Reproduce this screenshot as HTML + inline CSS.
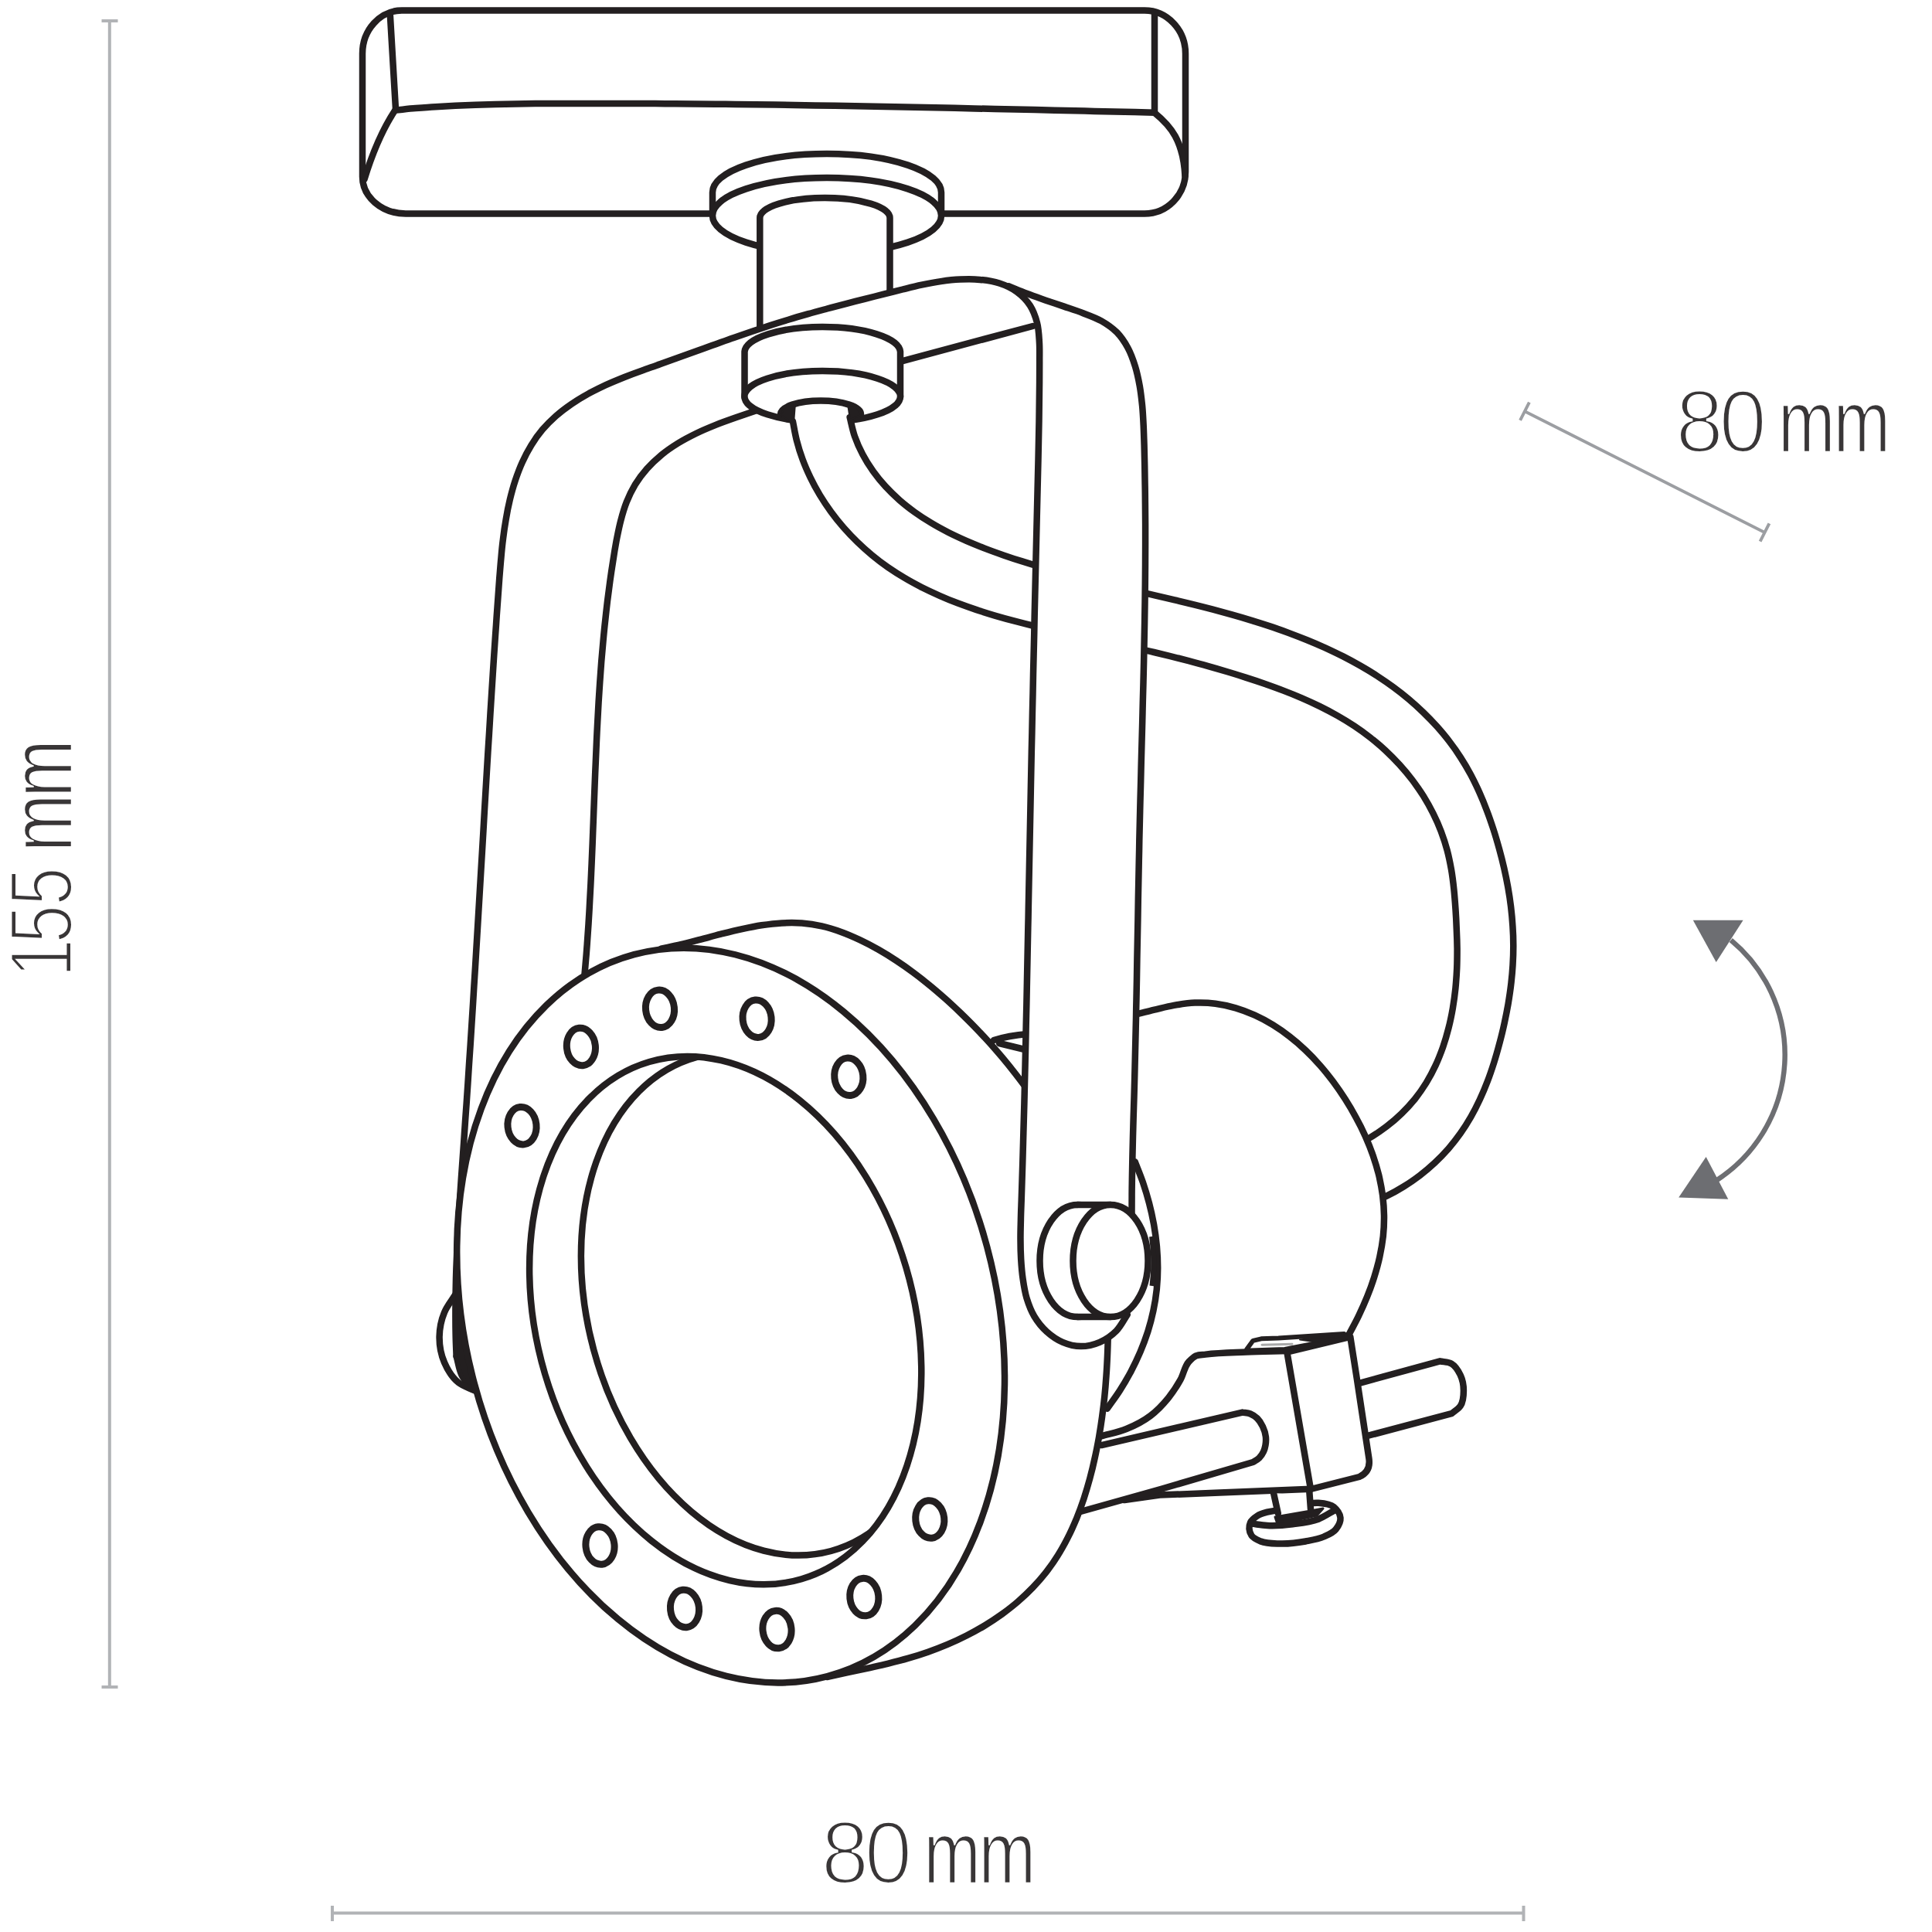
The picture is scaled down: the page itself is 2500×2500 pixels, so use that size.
<!DOCTYPE html>
<html><head><meta charset="utf-8"><title>Spot 155 mm</title>
<style>html,body{margin:0;padding:0;background:#fff}svg{display:block}</style></head>
<body><svg width="2500" height="2500" viewBox="0 0 2500 2500">
<rect width="2500" height="2500" fill="#fff"/>
<g stroke="#b1b3b6" stroke-width="4" fill="none" stroke-linecap="butt">
<path d="M141.8,27V2183M131.5,27H152.5M131.5,2183H152.5"/>
<path d="M430,2475.5H1971.5M430,2466V2486M1971.5,2466V2486"/>
</g>
<path d="M1973.0,532.3 L2283.5,689.0 M1978.9,520.7 L1967.1,543.9 M2289.4,677.4 L2277.6,700.6" stroke="#9c9ea2" stroke-width="4" fill="none"/>
<path d="M2239.8,1216.4A193,193 0 0 1 2221,1527.4" stroke="#6d6e72" stroke-width="6.5" fill="none"/>
<path d="M2190.8,1190.8L2255.6,1190.8L2220.7,1245Z" fill="#6d6e72"/>
<path d="M2207.6,1497L2172.2,1549.5L2236.3,1551.8Z" fill="#6d6e72"/>
<text y="585.0" style="font-family:'Liberation Sans',sans-serif;font-size:115px;fill:#393637;stroke:#fff;paint-order:fill stroke"><tspan x="2168.3 2224.2" textLength="124.0" lengthAdjust="spacingAndGlyphs" style="stroke-width:4px">80</tspan> <tspan x="2301.0 2372.4" textLength="147.3" lengthAdjust="spacingAndGlyphs" style="stroke-width:2.4px">mm</tspan></text>
<text y="2436.5" style="font-family:'Liberation Sans',sans-serif;font-size:115px;fill:#393637;stroke:#fff;paint-order:fill stroke"><tspan x="1062.5 1118.4" textLength="124.0" lengthAdjust="spacingAndGlyphs" style="stroke-width:4px">80</tspan> <tspan x="1195.2 1266.6" textLength="147.3" lengthAdjust="spacingAndGlyphs" style="stroke-width:2.4px">mm</tspan></text>
<text y="0" transform="translate(92.5,1241.6) rotate(-90)" style="font-family:'Liberation Sans',sans-serif;font-size:115px;fill:#393637;stroke:#fff;paint-order:fill stroke"><tspan x="-23.2 20.9 69.6" textLength="149.6" lengthAdjust="spacingAndGlyphs" style="stroke-width:4px">155</tspan> <tspan x="139.6 210.0" textLength="148.5" lengthAdjust="spacingAndGlyphs" style="stroke-width:2.4px">mm</tspan></text>
<g stroke-linecap="round" stroke-linejoin="round">
<path d="M520,13.5H1481A53,56 0 0 1 1534,70V222.6A53,54 0 0 1 1481,276.4H525A56,48 0 0 1 469,228V70A51,56 0 0 1 520,13.5Z" fill="#fff" stroke="#231f20" stroke-width="8.5" />
<path d="M504.7,17L512,141" fill="none" stroke="#231f20" stroke-width="8.5" />
<path d="M512.0,142.5C520.6,141.7 529.1,140.8 537.7,140.1C546.3,139.4 554.9,138.7 563.5,138.2C572.1,137.6 580.7,137.1 589.3,136.7C597.9,136.3 606.5,136.0 615.1,135.7C623.7,135.4 632.3,135.1 640.9,134.9C649.5,134.7 658.1,134.6 666.7,134.4C675.3,134.3 684.0,134.2 692.6,134.1C701.2,134.1 709.8,134.0 718.4,134.0C727.1,134.0 735.7,133.9 744.3,133.9C752.9,133.9 761.5,133.9 770.1,133.9C778.8,133.9 787.4,133.9 796.0,133.9C804.6,133.9 813.2,133.9 821.9,134.0C830.5,134.0 839.1,134.0 847.7,134.1C856.3,134.1 865.0,134.2 873.6,134.2C882.2,134.3 890.8,134.4 899.4,134.4C908.1,134.5 916.7,134.6 925.3,134.7C933.9,134.8 942.5,134.8 951.1,134.9C959.8,135.0 968.4,135.1 977.0,135.3C985.6,135.4 994.2,135.5 1002.9,135.6C1011.5,135.7 1020.1,135.8 1028.7,136.0C1037.3,136.1 1046.0,136.2 1054.6,136.4C1063.2,136.5 1071.8,136.6 1080.4,136.8C1089.0,136.9 1097.7,137.1 1106.3,137.3C1114.9,137.4 1123.5,137.6 1132.1,137.7C1140.8,137.9 1149.4,138.1 1158.0,138.2C1166.6,138.4 1175.2,138.6 1183.8,138.7C1192.5,138.9 1201.1,139.1 1209.7,139.3C1218.3,139.5 1226.9,139.6 1235.5,139.8C1244.2,140.0 1252.8,140.2 1261.4,140.4C1270.0,140.6 1278.6,140.8 1287.2,141.0C1295.9,141.2 1304.5,141.4 1313.1,141.5C1321.7,141.7 1330.3,141.9 1338.9,142.1C1347.6,142.3 1356.2,142.5 1364.8,142.7C1373.4,142.9 1382.0,143.1 1390.6,143.3C1399.2,143.5 1407.9,143.7 1416.5,143.9C1425.1,144.1 1433.7,144.3 1442.3,144.5C1450.9,144.7 1459.5,144.9 1468.2,145.1C1476.8,145.3 1485.4,145.5 1494.0,145.7" fill="none" stroke="#231f20" stroke-width="8.5" />
<path d="M511,143Q488,178 471.5,232" fill="none" stroke="#231f20" stroke-width="8.5" />
<path d="M1494,17V145" fill="none" stroke="#231f20" stroke-width="8.5" />
<path d="M1494,146C1515,163 1531,182 1533.5,228" fill="none" stroke="#231f20" stroke-width="8.5" />
<path d="M922,279V249A148,50 0 0 1 1218,249V279Z" fill="#fff" stroke="#231f20" stroke-width="8.5" />
<ellipse cx="1070" cy="279" rx="148" ry="49" fill="#fff" stroke="#231f20" stroke-width="8.5"/>
<path d="M983.3,424.5V282A84.1,26 0 0 1 1151.5,282V377Z" fill="#fff" stroke="none" stroke-width="8.5" />
<path d="M983.3,424.5V282A84.1,26 0 0 1 1151.5,282V377" fill="none" stroke="#231f20" stroke-width="8.5" />
<path d="M752.5,1300.0C753.4,1291.3 754.4,1282.7 755.2,1274.0C756.1,1265.3 756.9,1256.6 757.6,1247.9C758.4,1239.2 759.1,1230.5 759.7,1221.9C760.3,1213.2 760.9,1204.5 761.5,1195.8C762.0,1187.1 762.6,1178.4 763.0,1169.6C763.5,1160.9 764.0,1152.2 764.4,1143.5C764.8,1134.8 765.2,1126.1 765.6,1117.4C766.0,1108.7 766.3,1100.0 766.7,1091.2C767.0,1082.5 767.4,1073.8 767.7,1065.1C768.1,1056.4 768.4,1047.7 768.7,1038.9C769.0,1030.2 769.4,1021.5 769.7,1012.8C770.0,1004.1 770.4,995.3 770.8,986.6C771.1,977.9 771.5,969.2 771.9,960.5C772.3,951.8 772.7,943.0 773.2,934.3C773.6,925.6 774.1,916.9 774.6,908.2C775.2,899.5 775.7,890.8 776.3,882.1C776.9,873.4 777.6,864.7 778.2,856.0C778.9,847.3 779.7,838.6 780.5,829.9C781.3,821.2 782.1,812.5 783.1,803.8C784.0,795.1 785.0,786.5 786.0,777.8C787.1,769.1 788.2,760.4 789.4,751.8C790.6,743.1 791.9,734.4 793.3,725.8C794.6,717.1 796.0,708.4 797.6,699.8C799.3,691.3 800.9,682.7 803.1,674.3C805.3,666.0 807.6,657.7 810.8,649.7C813.9,641.9 817.6,634.2 821.9,627.0C826.3,619.8 831.5,612.9 837.1,606.6C842.8,600.2 849.2,594.2 855.8,588.7C862.6,583.1 870.0,578.1 877.4,573.5C885.0,568.8 893.1,564.6 901.1,560.7C909.3,556.8 917.7,553.3 926.1,549.9C934.5,546.6 943.0,543.6 951.5,540.6C959.8,537.7 968.1,535.0 976.4,532.1C984.3,529.4 992.1,526.7 1000.0,524.0" fill="none" stroke="#231f20" stroke-width="8.5" />
<path d="M1150,472L1167,467.3L1336.4,422" fill="none" stroke="#231f20" stroke-width="8.5" />
<path d="M963.5,514V455A100.8,33 0 0 1 1165,455V514Z" fill="#fff" stroke="none" stroke-width="8.5" />
<path d="M963.5,514V455A100.8,33 0 0 1 1165,455V514" fill="none" stroke="#231f20" stroke-width="8.5" />
<ellipse cx="1064.2" cy="513" rx="100.8" ry="33" fill="#fff" stroke="#231f20" stroke-width="8.5"/>
<path d="M1099.6,539.8C1101.7,548.1 1103.2,556.6 1106.0,564.7C1108.8,572.7 1112.3,580.6 1116.3,588.1C1120.2,595.6 1124.8,602.8 1129.8,609.8C1134.7,616.7 1140.1,623.3 1145.9,629.5C1151.6,635.7 1157.7,641.6 1164.0,647.2C1170.3,652.7 1177.0,657.9 1183.8,662.9C1190.6,667.8 1197.7,672.4 1205.0,676.7C1212.2,681.1 1219.7,685.1 1227.3,689.0C1234.9,692.9 1242.7,696.4 1250.5,699.9C1258.3,703.3 1266.3,706.5 1274.3,709.6C1282.3,712.7 1290.4,715.6 1298.5,718.4C1306.5,721.2 1314.7,723.9 1322.8,726.4C1330.9,729.0 1339.1,731.5 1347.2,733.8C1355.4,736.2 1363.6,738.5 1371.8,740.7C1379.9,742.9 1388.2,745.0 1396.4,747.1C1404.6,749.2 1412.8,751.2 1421.0,753.2C1429.3,755.2 1437.5,757.1 1445.8,759.1C1454.0,761.0 1462.3,762.9 1470.5,764.8C1478.8,766.7 1487.0,768.6 1495.3,770.6C1503.5,772.5 1511.8,774.4 1520.0,776.4C1528.3,778.3 1536.5,780.3 1544.8,782.4C1553.0,784.4 1561.2,786.5 1569.5,788.7C1577.7,790.9 1585.9,793.1 1594.1,795.4C1602.3,797.7 1610.5,800.1 1618.7,802.6C1626.9,805.1 1635.1,807.7 1643.2,810.4C1651.3,813.1 1659.4,816.0 1667.5,818.9C1675.5,821.9 1683.5,825.0 1691.4,828.2C1699.3,831.4 1707.2,834.8 1715.0,838.3C1722.7,841.9 1730.4,845.5 1738.0,849.4C1745.6,853.3 1753.0,857.3 1760.4,861.5C1767.8,865.7 1775.0,870.1 1782.1,874.7C1789.2,879.3 1796.2,884.1 1803.0,889.2C1809.8,894.2 1816.5,899.4 1822.9,904.8C1829.4,910.3 1835.7,916.0 1841.8,921.9C1847.9,927.8 1853.8,933.9 1859.5,940.2C1865.1,946.5 1870.6,953.0 1875.7,959.8C1880.9,966.5 1885.8,973.5 1890.3,980.6C1894.9,987.7 1899.2,995.1 1903.2,1002.5C1907.2,1010.0 1910.9,1017.7 1914.4,1025.5C1917.9,1033.3 1921.1,1041.2 1924.1,1049.2C1927.2,1057.2 1929.9,1065.3 1932.6,1073.5C1935.2,1081.6 1937.6,1089.9 1939.9,1098.1C1942.2,1106.4 1944.3,1114.7 1946.2,1123.0C1948.1,1131.3 1949.8,1139.6 1951.3,1148.0C1952.8,1156.4 1954.1,1164.8 1955.1,1173.2C1956.1,1181.5 1956.9,1190.0 1957.4,1198.4C1958.0,1206.8 1958.3,1215.3 1958.3,1223.7C1958.3,1232.1 1958.0,1240.6 1957.5,1249.0C1957.0,1257.5 1956.2,1265.9 1955.2,1274.3C1954.2,1282.8 1952.9,1291.2 1951.5,1299.6C1950.0,1308.1 1948.3,1316.5 1946.5,1324.8C1944.7,1333.2 1942.6,1341.6 1940.4,1349.9C1938.2,1358.2 1935.9,1366.5 1933.3,1374.7C1930.7,1382.8 1928.0,1391.0 1924.9,1399.0C1921.9,1406.9 1918.6,1414.8 1915.0,1422.5C1911.4,1430.2 1907.6,1437.8 1903.4,1445.1C1899.2,1452.4 1894.7,1459.6 1889.8,1466.5C1885.0,1473.3 1879.7,1480.0 1874.2,1486.4C1868.6,1492.7 1862.8,1498.8 1856.6,1504.6C1850.4,1510.4 1843.9,1515.9 1837.2,1521.1C1830.5,1526.2 1823.5,1531.1 1816.2,1535.5C1809.0,1540.0 1801.5,1544.2 1793.8,1547.9C1786.0,1551.7 1777.9,1554.6 1770.0,1558.0L1750.0,1484.0C1757.9,1480.2 1766.0,1477.0 1773.6,1472.7C1781.0,1468.4 1788.2,1463.5 1794.9,1458.2C1801.6,1452.9 1807.9,1447.1 1813.9,1441.0C1819.8,1434.9 1825.4,1428.4 1830.6,1421.6C1835.8,1414.8 1840.6,1407.6 1845.0,1400.3C1849.4,1393.0 1853.4,1385.4 1857.0,1377.7C1860.6,1370.1 1863.9,1362.2 1866.8,1354.2C1869.6,1346.3 1872.1,1338.2 1874.3,1330.1C1876.5,1321.9 1878.3,1313.6 1879.9,1305.3C1881.4,1296.9 1882.6,1288.5 1883.6,1280.1C1884.6,1271.5 1885.2,1263.0 1885.7,1254.4C1886.1,1245.8 1886.3,1237.2 1886.3,1228.6C1886.3,1219.9 1886.1,1211.2 1885.7,1202.5C1885.4,1193.8 1884.8,1185.1 1884.1,1176.4C1883.3,1167.8 1882.4,1159.1 1881.3,1150.5C1880.1,1141.9 1878.8,1133.3 1877.1,1124.8C1875.5,1116.4 1873.7,1108.0 1871.4,1099.7C1869.3,1091.5 1866.8,1083.3 1863.9,1075.4C1861.1,1067.4 1858.0,1059.6 1854.4,1052.0C1850.9,1044.4 1846.9,1037.0 1842.6,1029.8C1838.3,1022.7 1833.5,1015.7 1828.4,1009.1C1823.2,1002.4 1817.6,995.9 1811.8,989.7C1806.0,983.5 1799.8,977.6 1793.4,971.8C1787.0,966.1 1780.2,960.6 1773.4,955.3C1766.5,950.1 1759.4,945.1 1752.1,940.2C1744.9,935.4 1737.5,930.9 1730.0,926.5C1722.5,922.2 1714.9,918.1 1707.3,914.1C1699.6,910.2 1691.9,906.5 1684.1,903.0C1676.3,899.4 1668.5,896.1 1660.5,892.9C1652.6,889.8 1644.6,886.8 1636.6,883.9C1628.6,881.0 1620.5,878.3 1612.4,875.7C1604.3,873.1 1596.1,870.7 1587.9,868.3C1579.7,866.0 1571.5,863.7 1563.2,861.5C1554.9,859.4 1546.6,857.3 1538.3,855.2C1530.0,853.2 1521.7,851.3 1513.3,849.3C1505.0,847.4 1496.6,845.5 1488.2,843.7C1479.9,841.8 1471.5,839.9 1463.1,838.1C1454.7,836.3 1446.3,834.4 1438.0,832.6C1429.6,830.8 1421.2,828.9 1412.9,827.1C1404.5,825.2 1396.1,823.3 1387.8,821.4C1379.4,819.5 1371.1,817.6 1362.8,815.6C1354.5,813.7 1346.2,811.7 1337.9,809.6C1329.6,807.5 1321.3,805.4 1313.1,803.3C1304.8,801.1 1296.6,798.9 1288.4,796.6C1280.2,794.3 1272.0,792.0 1263.9,789.4C1255.8,786.9 1247.7,784.2 1239.7,781.3C1231.7,778.3 1223.7,775.2 1215.9,771.7C1208.0,768.2 1200.3,764.5 1192.7,760.5C1185.0,756.5 1177.5,752.2 1170.2,747.7C1162.9,743.2 1155.6,738.4 1148.6,733.4C1141.7,728.4 1134.8,723.1 1128.2,717.6C1121.6,712.1 1115.2,706.4 1109.1,700.4C1102.9,694.5 1097.0,688.3 1091.4,681.9C1085.7,675.5 1080.4,668.9 1075.3,662.0C1070.3,655.2 1065.5,648.1 1061.1,640.9C1056.7,633.7 1052.6,626.2 1048.8,618.6C1045.1,611.0 1041.7,603.1 1038.8,595.1C1035.8,587.1 1033.2,578.9 1031.1,570.6C1028.9,562.2 1027.6,553.5 1025.9,545.0Z" fill="#fff" stroke="none" stroke-width="8.5" />
<path d="M1030,528L1097,526.5L1101,549L1026,552Z" fill="#fff" stroke="none" stroke-width="8.5" />
<path d="M1099.6,539.8C1101.7,548.1 1103.2,556.6 1106.0,564.7C1108.8,572.7 1112.3,580.6 1116.3,588.1C1120.2,595.6 1124.8,602.8 1129.8,609.8C1134.7,616.7 1140.1,623.3 1145.9,629.5C1151.6,635.7 1157.7,641.6 1164.0,647.2C1170.3,652.7 1177.0,657.9 1183.8,662.9C1190.6,667.8 1197.7,672.4 1205.0,676.7C1212.2,681.1 1219.7,685.1 1227.3,689.0C1234.9,692.9 1242.7,696.4 1250.5,699.9C1258.3,703.3 1266.3,706.5 1274.3,709.6C1282.3,712.7 1290.4,715.6 1298.5,718.4C1306.5,721.2 1314.7,723.9 1322.8,726.4C1330.9,729.0 1339.1,731.5 1347.2,733.8C1355.4,736.2 1363.6,738.5 1371.8,740.7C1379.9,742.9 1388.2,745.0 1396.4,747.1C1404.6,749.2 1412.8,751.2 1421.0,753.2C1429.3,755.2 1437.5,757.1 1445.8,759.1C1454.0,761.0 1462.3,762.9 1470.5,764.8C1478.8,766.7 1487.0,768.6 1495.3,770.6C1503.5,772.5 1511.8,774.4 1520.0,776.4C1528.3,778.3 1536.5,780.3 1544.8,782.4C1553.0,784.4 1561.2,786.5 1569.5,788.7C1577.7,790.9 1585.9,793.1 1594.1,795.4C1602.3,797.7 1610.5,800.1 1618.7,802.6C1626.9,805.1 1635.1,807.7 1643.2,810.4C1651.3,813.1 1659.4,816.0 1667.5,818.9C1675.5,821.9 1683.5,825.0 1691.4,828.2C1699.3,831.4 1707.2,834.8 1715.0,838.3C1722.7,841.9 1730.4,845.5 1738.0,849.4C1745.6,853.3 1753.0,857.3 1760.4,861.5C1767.8,865.7 1775.0,870.1 1782.1,874.7C1789.2,879.3 1796.2,884.1 1803.0,889.2C1809.8,894.2 1816.5,899.4 1822.9,904.8C1829.4,910.3 1835.7,916.0 1841.8,921.9C1847.9,927.8 1853.8,933.9 1859.5,940.2C1865.1,946.5 1870.6,953.0 1875.7,959.8C1880.9,966.5 1885.8,973.5 1890.3,980.6C1894.9,987.7 1899.2,995.1 1903.2,1002.5C1907.2,1010.0 1910.9,1017.7 1914.4,1025.5C1917.9,1033.3 1921.1,1041.2 1924.1,1049.2C1927.2,1057.2 1929.9,1065.3 1932.6,1073.5C1935.2,1081.6 1937.6,1089.9 1939.9,1098.1C1942.2,1106.4 1944.3,1114.7 1946.2,1123.0C1948.1,1131.3 1949.8,1139.6 1951.3,1148.0C1952.8,1156.4 1954.1,1164.8 1955.1,1173.2C1956.1,1181.5 1956.9,1190.0 1957.4,1198.4C1958.0,1206.8 1958.3,1215.3 1958.3,1223.7C1958.3,1232.1 1958.0,1240.6 1957.5,1249.0C1957.0,1257.5 1956.2,1265.9 1955.2,1274.3C1954.2,1282.8 1952.9,1291.2 1951.5,1299.6C1950.0,1308.1 1948.3,1316.5 1946.5,1324.8C1944.7,1333.2 1942.6,1341.6 1940.4,1349.9C1938.2,1358.2 1935.9,1366.5 1933.3,1374.7C1930.7,1382.8 1928.0,1391.0 1924.9,1399.0C1921.9,1406.9 1918.6,1414.8 1915.0,1422.5C1911.4,1430.2 1907.6,1437.8 1903.4,1445.1C1899.2,1452.4 1894.7,1459.6 1889.8,1466.5C1885.0,1473.3 1879.7,1480.0 1874.2,1486.4C1868.6,1492.7 1862.8,1498.8 1856.6,1504.6C1850.4,1510.4 1843.9,1515.9 1837.2,1521.1C1830.5,1526.2 1823.5,1531.1 1816.2,1535.5C1809.0,1540.0 1801.5,1544.2 1793.8,1547.9C1786.0,1551.7 1777.9,1554.6 1770.0,1558.0" fill="none" stroke="#231f20" stroke-width="8.5" />
<path d="M1025.9,545.0C1027.5,553.3 1028.8,561.7 1030.9,569.9C1033.0,578.2 1035.5,586.3 1038.5,594.3C1041.4,602.3 1044.9,610.2 1048.6,617.9C1052.3,625.7 1056.5,633.3 1060.9,640.6C1065.4,648.0 1070.2,655.2 1075.3,662.2C1080.4,669.2 1085.8,676.0 1091.5,682.5C1097.2,689.0 1103.1,695.3 1109.3,701.3C1115.5,707.3 1121.9,713.1 1128.5,718.5C1135.1,724.0 1141.9,729.1 1148.9,734.0C1155.9,738.8 1163.0,743.4 1170.3,747.7C1177.6,752.1 1185.1,756.1 1192.7,760.0C1200.3,763.8 1208.0,767.4 1215.8,770.8C1223.6,774.3 1231.5,777.5 1239.5,780.5C1247.5,783.5 1255.6,786.4 1263.7,789.1C1271.8,791.8 1280.0,794.4 1288.2,796.8C1296.5,799.2 1304.7,801.5 1313.0,803.7C1321.3,805.9 1329.6,808.0 1338.0,810.0C1346.3,812.1 1354.7,814.0 1363.0,815.9C1371.4,817.8 1379.8,819.6 1388.2,821.4C1396.6,823.2 1405.0,825.0 1413.4,826.7C1421.8,828.5 1430.2,830.2 1438.5,832.0C1446.9,833.8 1455.3,835.5 1463.6,837.4C1472.0,839.2 1480.3,841.0 1488.6,842.9C1496.9,844.8 1505.2,846.8 1513.4,848.8C1521.7,850.9 1529.9,853.0 1538.1,855.1C1546.4,857.3 1554.6,859.5 1562.7,861.8C1571.0,864.1 1579.1,866.5 1587.3,869.0C1595.5,871.4 1603.7,874.0 1611.8,876.6C1620.0,879.2 1628.2,881.9 1636.3,884.7C1644.5,887.6 1652.6,890.5 1660.6,893.6C1668.7,896.7 1676.7,899.9 1684.6,903.3C1692.5,906.7 1700.3,910.3 1708.0,914.1C1715.7,917.9 1723.3,921.9 1730.7,926.1C1738.1,930.3 1745.5,934.8 1752.6,939.5C1759.7,944.2 1766.6,949.2 1773.3,954.5C1780.0,959.8 1786.6,965.3 1792.8,971.1C1799.1,977.0 1805.1,983.0 1810.9,989.4C1816.6,995.7 1822.1,1002.2 1827.3,1009.0C1832.4,1015.8 1837.3,1022.8 1841.9,1030.0C1846.4,1037.3 1850.6,1044.7 1854.4,1052.3C1858.2,1059.9 1861.7,1067.7 1864.7,1075.7C1867.7,1083.7 1870.4,1091.8 1872.6,1100.1C1874.8,1108.4 1876.5,1116.9 1878.0,1125.3C1879.5,1133.9 1880.5,1142.5 1881.4,1151.1C1882.3,1159.7 1882.9,1168.3 1883.5,1176.9C1884.1,1185.4 1884.5,1193.9 1884.8,1202.5C1885.2,1210.9 1885.5,1219.3 1885.6,1227.7C1885.6,1236.2 1885.6,1244.7 1885.2,1253.2C1884.8,1261.7 1884.2,1270.3 1883.4,1278.9C1882.5,1287.5 1881.3,1296.1 1879.9,1304.6C1878.4,1313.2 1876.7,1321.7 1874.5,1330.1C1872.4,1338.4 1870.0,1346.7 1867.2,1354.8C1864.3,1362.9 1861.2,1370.9 1857.6,1378.6C1854.0,1386.3 1850.0,1393.9 1845.6,1401.1C1841.1,1408.3 1836.2,1415.4 1831.0,1422.0C1825.6,1428.6 1819.8,1435.0 1813.7,1440.9C1807.6,1446.9 1801.0,1452.5 1794.2,1457.7C1787.4,1462.9 1780.2,1467.7 1772.8,1472.1C1765.5,1476.5 1757.6,1480.0 1750.0,1484.0" fill="none" stroke="#231f20" stroke-width="8.5" />
<path d="M1010,536A52,17.5 0 0 1 1114,536" fill="none" stroke="#231f20" stroke-width="8.5" />
<path d="M1010,537L1016,526.5L1029,522L1027,548Z" fill="#231f20" stroke="#231f20" stroke-width="2" />
<path d="M1114,537L1109,527L1097,522.5L1100,543Z" fill="#231f20" stroke="#231f20" stroke-width="2" />
<path d="M1440.0,1318.0C1448.8,1316.5 1457.6,1315.3 1466.3,1313.5C1475.1,1311.6 1483.8,1309.0 1492.6,1306.9C1501.4,1304.9 1510.2,1302.5 1519.1,1300.9C1528.0,1299.4 1537.0,1298.0 1546.0,1297.6C1554.9,1297.2 1563.9,1297.5 1572.8,1298.7C1581.6,1299.8 1590.4,1301.8 1598.9,1304.3C1607.4,1306.8 1615.7,1310.0 1623.7,1313.6C1631.8,1317.3 1639.6,1321.5 1647.1,1326.1C1654.6,1330.7 1661.9,1335.8 1668.9,1341.3C1676.0,1346.7 1682.8,1352.7 1689.2,1358.9C1695.8,1365.1 1702.0,1371.7 1708.0,1378.5C1714.0,1385.3 1719.7,1392.5 1725.2,1399.8C1730.6,1407.1 1735.8,1414.6 1740.7,1422.3C1745.6,1430.0 1750.3,1437.9 1754.6,1445.9C1759.0,1453.8 1763.0,1461.9 1766.7,1470.2C1770.3,1478.3 1773.7,1486.7 1776.6,1495.1C1779.5,1503.5 1782.1,1512.0 1784.2,1520.6C1786.2,1529.2 1787.9,1537.9 1789.1,1546.6C1790.2,1555.4 1790.9,1564.2 1791.0,1573.0C1791.1,1581.9 1790.7,1590.8 1789.8,1599.6C1788.8,1608.6 1787.2,1617.5 1785.3,1626.3C1783.4,1635.2 1780.9,1644.0 1778.2,1652.7C1775.5,1661.4 1772.3,1670.0 1768.9,1678.4C1765.5,1686.8 1761.8,1695.0 1757.9,1703.2C1754.1,1711.1 1749.8,1718.7 1745.7,1726.5Z" fill="#fff" stroke="none" stroke-width="8.5" />
<path d="M1440.0,1318.0C1448.8,1316.5 1457.6,1315.3 1466.3,1313.5C1475.1,1311.6 1483.8,1309.0 1492.6,1306.9C1501.4,1304.9 1510.2,1302.5 1519.1,1300.9C1528.0,1299.4 1537.0,1298.0 1546.0,1297.6C1554.9,1297.2 1563.9,1297.5 1572.8,1298.7C1581.6,1299.8 1590.4,1301.8 1598.9,1304.3C1607.4,1306.8 1615.7,1310.0 1623.7,1313.6C1631.8,1317.3 1639.6,1321.5 1647.1,1326.1C1654.6,1330.7 1661.9,1335.8 1668.9,1341.3C1676.0,1346.7 1682.8,1352.7 1689.2,1358.9C1695.8,1365.1 1702.0,1371.7 1708.0,1378.5C1714.0,1385.3 1719.7,1392.5 1725.2,1399.8C1730.6,1407.1 1735.8,1414.6 1740.7,1422.3C1745.6,1430.0 1750.3,1437.9 1754.6,1445.9C1759.0,1453.8 1763.0,1461.9 1766.7,1470.2C1770.3,1478.3 1773.7,1486.7 1776.6,1495.1C1779.5,1503.5 1782.1,1512.0 1784.2,1520.6C1786.2,1529.2 1787.9,1537.9 1789.1,1546.6C1790.2,1555.4 1790.9,1564.2 1791.0,1573.0C1791.1,1581.9 1790.7,1590.8 1789.8,1599.6C1788.8,1608.6 1787.2,1617.5 1785.3,1626.3C1783.4,1635.2 1780.9,1644.0 1778.2,1652.7C1775.5,1661.4 1772.3,1670.0 1768.9,1678.4C1765.5,1686.8 1761.8,1695.0 1757.9,1703.2C1754.1,1711.1 1749.8,1718.7 1745.7,1726.5" fill="none" stroke="#231f20" stroke-width="8.5" />
<path d="M1468.7,1503.3C1472.0,1512.1 1475.7,1520.8 1478.8,1529.7C1481.8,1538.6 1484.6,1547.7 1487.0,1556.8C1489.4,1565.9 1491.4,1575.2 1493.1,1584.5C1494.7,1593.7 1496.0,1603.1 1496.9,1612.4C1497.7,1621.8 1498.2,1631.2 1498.2,1640.5C1498.2,1649.8 1497.7,1659.2 1496.8,1668.4C1495.8,1677.7 1494.4,1686.9 1492.4,1696.0C1490.5,1705.1 1488.1,1714.2 1485.3,1723.1C1482.4,1732.0 1479.1,1740.8 1475.5,1749.4C1471.8,1758.1 1467.7,1766.6 1463.3,1774.9C1458.9,1783.3 1454.1,1791.4 1449.0,1799.4C1443.9,1807.4 1438.2,1814.9 1432.8,1822.7" fill="none" stroke="#231f20" stroke-width="8.5" />
<path d="M1490.5,1600Q1495,1632 1491,1664" fill="none" stroke="#231f20" stroke-width="7" stroke-linecap="butt"/>
<path d="M1750.0,1792.3 L1863.3,1761.3C1868.3,1762.4 1874.1,1762.2 1878.2,1764.6C1883.3,1767.6 1887.2,1774.0 1889.8,1779.5C1892.6,1785.5 1893.9,1792.8 1893.9,1799.4C1893.9,1806.0 1893.3,1813.9 1889.8,1819.3C1887.2,1823.3 1882.1,1825.9 1878.2,1829.2L1765.0,1859.2" fill="#fff" stroke="#231f20" stroke-width="8.5" />
<path d="M1425.0,1858.4C1435.9,1855.3 1447.2,1853.3 1457.6,1849.0C1468.5,1844.6 1479.4,1839.1 1488.7,1832.0C1497.4,1825.4 1505.1,1817.2 1512.0,1808.7C1517.8,1801.5 1523.0,1793.5 1527.5,1785.4C1531.7,1777.9 1532.7,1768.2 1538.4,1762.0C1541.1,1759.1 1544.2,1755.9 1547.7,1754.3C1551.3,1752.7 1555.9,1753.1 1560.0,1752.6C1577.6,1750.4 1595.3,1750.3 1613.0,1749.5C1630.3,1748.7 1647.7,1748.5 1665.0,1748.0L1696,1927 L1690,1927 L1572,1931.8 L1500.7,1934.6 L1455,1941 L1396.5,1956.5 L1380,1995 Z" fill="#fff" stroke="none" stroke-width="8.5" />
<path d="M1425.0,1858.4C1435.9,1855.3 1447.2,1853.3 1457.6,1849.0C1468.5,1844.6 1479.4,1839.1 1488.7,1832.0C1497.4,1825.4 1505.1,1817.2 1512.0,1808.7C1517.8,1801.5 1523.0,1793.5 1527.5,1785.4C1531.7,1777.9 1532.7,1768.2 1538.4,1762.0C1541.1,1759.1 1544.2,1755.9 1547.7,1754.3C1551.3,1752.7 1555.9,1753.1 1560.0,1752.6C1577.6,1750.4 1595.3,1750.3 1613.0,1749.5C1630.3,1748.7 1647.7,1748.5 1665.0,1748.0" fill="none" stroke="#231f20" stroke-width="8.5" />
<path d="M1696,1927L1690,1927L1572,1931.8L1500.7,1934.6L1455,1941" fill="none" stroke="#231f20" stroke-width="8.5" />
<path d="M1665.4,1749.7L1747.3,1729.8L1755.6,1782.8L1765.6,1849L1771.4,1887.2Q1774,1904 1759,1911L1696,1927Z" fill="#fff" stroke="#231f20" stroke-width="8.5" />
<path d="M1613.2,1746.0L1621.4,1734.8L1632.0,1732.3L1654.3,1731.5L1739.4,1726.0L1741.0,1729.6L1709.2,1737.0L1662.6,1746.0L1618.7,1747.6Z" fill="#fff" stroke="#231f20" stroke-width="6" />
<path d="M1633,1740.3L1672,1739.2" fill="none" stroke="#a9a9a9" stroke-width="3" />
<path d="M1682,1733.5L1740,1727.5L1706,1737Z" fill="#231f20" stroke="#231f20" stroke-width="2" />
<path d="M1653.8,1954.2C1649.1,1955.0 1644.3,1955.4 1639.7,1956.7C1635.4,1957.9 1630.7,1959.1 1627.0,1961.5C1623.6,1963.7 1619.7,1966.4 1618.0,1970.0C1616.9,1972.4 1616.3,1975.6 1616.5,1978.3C1616.7,1981.3 1617.9,1984.6 1619.5,1987.0C1622.0,1990.7 1627.2,1992.7 1631.4,1994.5C1638.9,1997.7 1648.0,1997.3 1656.3,1997.5C1667.3,1997.8 1678.5,1996.5 1689.4,1994.5C1697.4,1993.0 1705.7,1991.8 1713.0,1988.5C1718.5,1986.0 1724.9,1983.5 1728.5,1979.0C1731.7,1975.0 1734.9,1968.8 1734.5,1964.0C1734.1,1959.1 1729.9,1953.2 1726.0,1950.0C1721.1,1945.9 1712.8,1945.3 1706.0,1944.8C1702.7,1944.6 1699.3,1944.9 1696.0,1945.0Z" fill="#fff" stroke="#231f20" stroke-width="8.5" />
<path d="M1619.5,1971.6C1626.2,1972.4 1633.0,1973.6 1639.7,1974.0C1650.7,1974.6 1661.9,1973.7 1672.8,1972.3C1684.0,1970.9 1695.6,1969.8 1706.0,1965.7C1713.5,1962.8 1720.3,1957.9 1727.5,1954.0" fill="none" stroke="#231f20" stroke-width="8.5" />
<path d="M1650.0,1963.0L1696.0,1955.0L1712.0,1952.0L1704.0,1961.0L1673.0,1968.0L1652.0,1969.0Z" fill="#231f20" stroke="#231f20" stroke-width="3" />
<path d="M1648,1931.9L1653.8,1958.4L1696,1953L1694.3,1936Z" fill="#fff" stroke="none" stroke-width="8.5" />
<path d="M1648,1931.9L1653.8,1958.4" fill="none" stroke="#231f20" stroke-width="8.5" />
<path d="M1694.3,1930L1696,1953" fill="none" stroke="#231f20" stroke-width="8.5" />
<path d="M1425.3,1870.1L1607.7,1827.6C1611.1,1828.2 1614.8,1828.2 1618.0,1829.5C1621.2,1830.8 1624.4,1833.0 1626.9,1835.4C1629.9,1838.3 1632.2,1842.2 1634.0,1846.0C1635.9,1850.1 1637.4,1854.6 1637.9,1859.1C1638.3,1862.7 1638.1,1866.4 1637.5,1870.0C1637.0,1872.8 1636.3,1875.7 1635.1,1878.3C1633.7,1881.3 1631.8,1884.2 1629.5,1886.5C1627.2,1888.8 1624.1,1890.2 1621.4,1892.0L1503.5,1926.5L1396.5,1956.5Z" fill="#fff" stroke="none" stroke-width="8.5" />
<path d="M1425.3,1870.1L1607.7,1827.6C1611.1,1828.2 1614.8,1828.2 1618.0,1829.5C1621.2,1830.8 1624.4,1833.0 1626.9,1835.4C1629.9,1838.3 1632.2,1842.2 1634.0,1846.0C1635.9,1850.1 1637.4,1854.6 1637.9,1859.1C1638.3,1862.7 1638.1,1866.4 1637.5,1870.0C1637.0,1872.8 1636.3,1875.7 1635.1,1878.3C1633.7,1881.3 1631.8,1884.2 1629.5,1886.5C1627.2,1888.8 1624.1,1890.2 1621.4,1892.0L1503.5,1926.5L1396.5,1956.5" fill="none" stroke="#231f20" stroke-width="8.5" />
<path d="M855.4,1227.6C863.9,1225.8 872.5,1224.1 880.9,1222.2C889.6,1220.1 898.2,1217.8 906.8,1215.6C915.5,1213.3 924.2,1210.9 932.9,1208.7C941.7,1206.5 950.4,1204.3 959.2,1202.4C967.9,1200.5 976.6,1198.6 985.4,1197.3C994.1,1196.0 1002.9,1194.9 1011.6,1194.4C1020.2,1194.0 1029.0,1193.9 1037.6,1194.5C1046.2,1195.2 1054.8,1196.5 1063.2,1198.4C1071.8,1200.3 1080.2,1203.0 1088.4,1206.0C1096.8,1209.0 1104.9,1212.6 1113.0,1216.4C1121.1,1220.2 1129.0,1224.4 1136.7,1228.8C1144.5,1233.2 1152.2,1238.0 1159.6,1242.9C1167.1,1247.8 1174.5,1253.0 1181.7,1258.4C1188.9,1263.7 1196.0,1269.3 1202.9,1275.0C1209.8,1280.6 1216.6,1286.5 1223.3,1292.4C1229.9,1298.3 1236.4,1304.4 1242.9,1310.6C1249.2,1316.7 1255.5,1322.9 1261.6,1329.2C1267.7,1335.5 1273.7,1341.9 1279.6,1348.4C1285.5,1354.9 1291.2,1361.6 1296.9,1368.3C1302.5,1375.0 1308.1,1381.9 1313.5,1388.8C1319.0,1395.8 1324.3,1402.9 1329.5,1410.0C1334.8,1417.3 1339.8,1424.7 1345.0,1432.0L1434.0,1700.0C1433.9,1709.0 1434.0,1718.0 1433.8,1726.9C1433.6,1735.9 1433.4,1744.8 1433.0,1753.7C1432.6,1762.6 1432.2,1771.5 1431.5,1780.3C1430.9,1789.2 1430.2,1798.0 1429.3,1806.9C1428.4,1815.7 1427.3,1824.6 1426.1,1833.4C1424.9,1842.3 1423.5,1851.1 1422.0,1859.9C1420.4,1868.8 1418.7,1877.7 1416.7,1886.5C1414.8,1895.4 1412.7,1904.2 1410.3,1913.0C1407.9,1921.8 1405.3,1930.6 1402.5,1939.2C1399.6,1947.9 1396.5,1956.4 1393.1,1964.8C1389.6,1973.1 1386.0,1981.4 1381.9,1989.4C1377.9,1997.3 1373.6,2005.2 1368.8,2012.7C1364.2,2020.2 1359.1,2027.4 1353.7,2034.4C1348.3,2041.3 1342.5,2047.9 1336.4,2054.3C1330.4,2060.6 1323.9,2066.7 1317.3,2072.4C1310.6,2078.2 1303.6,2083.6 1296.5,2088.8C1289.2,2094.0 1281.8,2098.9 1274.2,2103.5C1266.5,2108.1 1258.6,2112.5 1250.6,2116.5C1242.6,2120.6 1234.4,2124.4 1226.1,2127.9C1217.8,2131.4 1209.3,2134.7 1200.7,2137.7C1192.2,2140.7 1183.5,2143.4 1174.8,2145.9C1166.1,2148.4 1157.3,2150.6 1148.5,2152.8C1139.8,2154.9 1130.9,2156.8 1122.1,2158.8C1113.4,2160.7 1104.6,2162.5 1095.9,2164.4C1087.2,2166.2 1078.6,2168.1 1070.0,2170.0L945,1700Z" fill="#fff" stroke="none" stroke-width="8.5" />
<path d="M855.4,1227.6C863.9,1225.8 872.5,1224.1 880.9,1222.2C889.6,1220.1 898.2,1217.8 906.8,1215.6C915.5,1213.3 924.2,1210.9 932.9,1208.7C941.7,1206.5 950.4,1204.3 959.2,1202.4C967.9,1200.5 976.6,1198.6 985.4,1197.3C994.1,1196.0 1002.9,1194.9 1011.6,1194.4C1020.2,1194.0 1029.0,1193.9 1037.6,1194.5C1046.2,1195.2 1054.8,1196.5 1063.2,1198.4C1071.8,1200.3 1080.2,1203.0 1088.4,1206.0C1096.8,1209.0 1104.9,1212.6 1113.0,1216.4C1121.1,1220.2 1129.0,1224.4 1136.7,1228.8C1144.5,1233.2 1152.2,1238.0 1159.6,1242.9C1167.1,1247.8 1174.5,1253.0 1181.7,1258.4C1188.9,1263.7 1196.0,1269.3 1202.9,1275.0C1209.8,1280.6 1216.6,1286.5 1223.3,1292.4C1229.9,1298.3 1236.4,1304.4 1242.9,1310.6C1249.2,1316.7 1255.5,1322.9 1261.6,1329.2C1267.7,1335.5 1273.7,1341.9 1279.6,1348.4C1285.5,1354.9 1291.2,1361.6 1296.9,1368.3C1302.5,1375.0 1308.1,1381.9 1313.5,1388.8C1319.0,1395.8 1324.3,1402.9 1329.5,1410.0C1334.8,1417.3 1339.8,1424.7 1345.0,1432.0" fill="none" stroke="#231f20" stroke-width="8.5" />
<path d="M1434.0,1700.0C1433.9,1709.0 1434.0,1718.0 1433.8,1726.9C1433.6,1735.9 1433.4,1744.8 1433.0,1753.7C1432.6,1762.6 1432.2,1771.5 1431.5,1780.3C1430.9,1789.2 1430.2,1798.0 1429.3,1806.9C1428.4,1815.7 1427.3,1824.6 1426.1,1833.4C1424.9,1842.3 1423.5,1851.1 1422.0,1859.9C1420.4,1868.8 1418.7,1877.7 1416.7,1886.5C1414.8,1895.4 1412.7,1904.2 1410.3,1913.0C1407.9,1921.8 1405.3,1930.6 1402.5,1939.2C1399.6,1947.9 1396.5,1956.4 1393.1,1964.8C1389.6,1973.1 1386.0,1981.4 1381.9,1989.4C1377.9,1997.3 1373.6,2005.2 1368.8,2012.7C1364.2,2020.2 1359.1,2027.4 1353.7,2034.4C1348.3,2041.3 1342.5,2047.9 1336.4,2054.3C1330.4,2060.6 1323.9,2066.7 1317.3,2072.4C1310.6,2078.2 1303.6,2083.6 1296.5,2088.8C1289.2,2094.0 1281.8,2098.9 1274.2,2103.5C1266.5,2108.1 1258.6,2112.5 1250.6,2116.5C1242.6,2120.6 1234.4,2124.4 1226.1,2127.9C1217.8,2131.4 1209.3,2134.7 1200.7,2137.7C1192.2,2140.7 1183.5,2143.4 1174.8,2145.9C1166.1,2148.4 1157.3,2150.6 1148.5,2152.8C1139.8,2154.9 1130.9,2156.8 1122.1,2158.8C1113.4,2160.7 1104.6,2162.5 1095.9,2164.4C1087.2,2166.2 1078.6,2168.1 1070.0,2170.0" fill="none" stroke="#231f20" stroke-width="8.5" />
<path d="M1286,1346Q1305,1340 1330,1338" fill="none" stroke="#231f20" stroke-width="8.5" />
<path d="M1293,1350L1330,1359" fill="none" stroke="#231f20" stroke-width="8.5" />
<path d="M1305.0,370.2C1305.9,371.1 1306.8,372.1 1307.7,373.0C1312.5,377.7 1319.4,380.0 1324.2,384.6C1328.7,388.9 1332.7,394.1 1335.8,399.5C1338.7,404.6 1340.9,410.3 1342.4,416.0C1344.1,422.4 1344.4,429.3 1344.9,436.0C1345.5,444.0 1345.2,452.0 1345.2,460.0C1345.2,468.5 1345.0,477.1 1344.9,485.6C1344.5,513.2 1343.7,540.9 1343.3,568.5C1342.9,592.3 1342.8,616.2 1342.4,640.0C1341.8,676.7 1340.8,713.3 1340.0,750.0C1338.8,804.0 1337.6,858.0 1336.4,912.0C1335.3,966.0 1334.1,1020.0 1332.9,1074.0C1331.7,1128.0 1330.5,1182.0 1329.3,1236.0C1328.1,1290.0 1326.9,1344.0 1325.8,1398.0C1324.6,1452.0 1322.9,1506.0 1322.2,1560.0C1321.9,1583.7 1320.3,1607.4 1321.6,1631.0C1322.2,1641.3 1322.3,1651.9 1324.2,1662.0C1326.3,1673.6 1329.4,1685.5 1334.6,1695.9C1339.8,1706.2 1346.7,1716.7 1355.3,1724.3C1362.6,1730.8 1371.6,1737.1 1381.0,1739.9C1387.6,1741.9 1395.0,1742.8 1401.9,1742.4C1408.9,1742.0 1416.3,1740.2 1422.6,1737.3C1430.3,1733.8 1437.3,1727.8 1443.3,1721.7C1449.3,1715.7 1453.6,1707.9 1458.8,1701.0L1466.0,1650.0C1465.5,1621.3 1464.6,1592.7 1464.5,1564.0C1464.3,1509.1 1466.8,1454.1 1468.0,1399.2C1469.2,1344.3 1470.3,1289.3 1471.5,1234.4C1472.7,1179.5 1473.8,1124.5 1475.0,1069.6C1476.2,1014.7 1477.3,959.7 1478.5,904.8C1479.7,849.9 1481.2,794.9 1482.0,740.0C1482.3,721.6 1482.8,703.1 1482.7,684.7C1482.6,669.8 1482.0,654.9 1481.6,640.0C1481.0,616.2 1480.7,592.3 1479.9,568.5C1479.4,554.7 1479.7,540.8 1478.3,527.0C1477.2,515.9 1475.6,504.8 1473.3,493.9C1471.1,483.3 1468.9,472.5 1465.0,462.4C1461.9,454.4 1458.3,446.3 1453.4,439.3C1449.6,433.9 1445.3,428.5 1440.2,424.3C1436.2,421.0 1431.5,418.5 1426.9,416.0C1417.4,410.9 1406.6,408.4 1396.4,404.6C1386.3,400.7 1376.1,396.9 1366.0,393.1C1355.8,389.3 1345.6,385.5 1335.5,381.6C1325.3,377.8 1315.2,374.0 1305.0,370.2Z" fill="#fff" stroke="none" stroke-width="8.5" />
<path d="M590.6,1755.0C590.3,1746.6 589.9,1738.2 589.7,1729.8C589.5,1721.4 589.4,1713.0 589.4,1704.5C589.4,1696.1 589.4,1687.7 589.5,1679.3C589.6,1670.9 589.8,1662.5 590.0,1654.1C590.2,1645.7 590.5,1637.3 590.9,1628.9C591.2,1620.4 591.6,1612.0 592.0,1603.6C592.4,1595.2 592.9,1586.8 593.4,1578.4C593.9,1570.0 594.4,1561.6 594.9,1553.2C595.5,1544.8 596.0,1536.4 596.6,1528.0C597.2,1519.6 597.8,1511.2 598.4,1502.8C599.0,1494.4 599.6,1486.0 600.2,1477.6C600.8,1469.2 601.4,1460.8 601.9,1452.4C602.5,1444.0 603.1,1435.6 603.7,1427.2C604.2,1418.8 604.8,1410.4 605.4,1402.0C605.9,1393.6 606.5,1385.2 607.0,1376.8C607.6,1368.5 608.1,1360.1 608.7,1351.7C609.2,1343.3 609.7,1334.9 610.3,1326.5C610.8,1318.1 611.3,1309.7 611.9,1301.3C612.4,1293.0 612.9,1284.6 613.4,1276.2C613.9,1267.8 614.5,1259.4 615.0,1251.0C615.5,1242.6 616.0,1234.2 616.5,1225.8C617.0,1217.4 617.5,1209.0 618.0,1200.7C618.5,1192.3 619.0,1183.9 619.5,1175.5C620.0,1167.1 620.5,1158.7 621.0,1150.3C621.5,1141.9 622.0,1133.5 622.5,1125.1C623.0,1116.7 623.5,1108.3 624.0,1099.9C624.5,1091.4 625.0,1083.0 625.5,1074.6C626.0,1066.2 626.5,1057.8 626.9,1049.4C627.4,1041.0 627.9,1032.5 628.4,1024.1C628.9,1015.7 629.4,1007.3 629.9,998.8C630.4,990.4 630.9,982.0 631.4,973.6C631.9,965.1 632.5,956.7 633.0,948.3C633.5,939.9 634.0,931.4 634.5,923.0C635.0,914.6 635.6,906.2 636.1,897.8C636.6,889.4 637.1,881.0 637.7,872.6C638.2,864.2 638.8,855.8 639.3,847.4C639.9,839.0 640.4,830.6 641.0,822.3C641.6,813.9 642.2,805.6 642.7,797.2C643.3,788.9 643.9,780.5 644.5,772.2C645.1,763.9 645.7,755.6 646.3,747.3C647.0,739.0 647.6,730.6 648.4,722.3C649.1,714.0 649.9,705.6 651.0,697.3C652.0,688.8 653.2,680.3 654.7,671.9C656.1,663.4 657.8,655.0 659.8,646.6C661.8,638.3 664.0,630.0 666.7,621.9C669.4,613.9 672.3,606.0 675.8,598.3C679.2,590.7 683.0,583.3 687.4,576.2C691.7,569.2 696.5,562.4 701.8,556.1C707.1,549.8 713.1,543.9 719.3,538.4C725.6,532.8 732.3,527.8 739.3,523.0C746.3,518.2 753.6,513.8 761.1,509.6C768.6,505.5 776.3,501.7 784.0,498.1C791.7,494.6 799.6,491.4 807.5,488.2C815.2,485.2 823.1,482.3 831.0,479.5C838.9,476.6 846.8,473.9 854.6,471.0C862.5,468.2 870.4,465.4 878.3,462.5C886.2,459.7 894.1,456.8 902.0,454.0C909.9,451.1 917.8,448.2 925.8,445.4C933.7,442.6 941.7,439.7 949.6,437.0C957.6,434.2 965.5,431.4 973.5,428.7C981.5,426.0 989.5,423.4 997.5,420.8C1005.5,418.2 1013.6,415.7 1021.6,413.3C1029.7,410.8 1037.8,408.5 1045.9,406.2C1053.9,403.9 1062.1,401.7 1070.2,399.5C1078.3,397.3 1086.4,395.2 1094.6,393.1C1102.7,391.0 1110.9,388.9 1119.0,386.8C1127.2,384.8 1135.3,382.7 1143.5,380.7C1151.7,378.6 1159.8,376.5 1168.0,374.5C1176.1,372.5 1184.3,370.4 1192.5,368.7C1200.7,367.0 1209.0,365.3 1217.3,364.1C1225.6,362.9 1234.0,361.9 1242.4,361.6C1250.9,361.2 1259.6,361.1 1268.0,361.9C1276.5,362.7 1285.2,363.9 1293.2,366.5C1301.1,369.1 1309.1,372.7 1315.7,377.6C1322.3,382.4 1328.5,388.6 1332.9,395.4C1337.2,402.1 1340.0,410.1 1342.0,417.8C1344.1,425.8 1344.4,434.4 1344.9,442.7C1345.5,451.3 1345.1,459.9 1345.2,468.6C1345.2,477.1 1345.1,485.7 1345.1,494.2C1345.0,502.7 1344.9,511.2 1344.8,519.7C1344.7,528.1 1344.6,536.6 1344.5,545.0C1344.3,553.4 1344.2,561.8 1344.0,570.2C1343.8,578.5 1343.6,586.9 1343.5,595.3C1343.3,603.6 1343.1,612.0 1342.9,620.4C1342.7,628.7 1342.5,637.1 1342.3,645.4C1342.1,653.8 1341.9,662.2 1341.7,670.5C1341.5,678.9 1341.3,687.3 1341.1,695.7C1340.9,704.1 1340.7,712.5 1340.5,720.8C1340.3,729.2 1340.1,737.6 1339.9,746.0C1339.7,754.4 1339.5,762.8 1339.3,771.2C1339.1,779.7 1338.9,788.1 1338.7,796.5C1338.6,804.9 1338.4,813.3 1338.2,821.7C1338.0,830.1 1337.8,838.6 1337.6,847.0C1337.4,855.4 1337.2,863.8 1337.0,872.3C1336.8,880.7 1336.7,889.1 1336.5,897.6C1336.3,906.0 1336.1,914.4 1335.9,922.8C1335.7,931.3 1335.6,939.7 1335.4,948.1C1335.2,956.6 1335.0,965.0 1334.8,973.4C1334.7,981.9 1334.5,990.3 1334.3,998.7C1334.1,1007.2 1334.0,1015.6 1333.8,1024.0C1333.6,1032.4 1333.5,1040.9 1333.3,1049.3C1333.1,1057.7 1332.9,1066.1 1332.8,1074.6C1332.6,1083.0 1332.4,1091.4 1332.3,1099.8C1332.1,1108.2 1332.0,1116.7 1331.8,1125.1C1331.6,1133.5 1331.5,1141.9 1331.3,1150.3C1331.1,1158.7 1331.0,1167.1 1330.8,1175.5C1330.7,1183.9 1330.5,1192.4 1330.3,1200.8C1330.2,1209.2 1330.0,1217.6 1329.8,1226.0C1329.7,1234.4 1329.5,1242.8 1329.3,1251.2C1329.2,1259.6 1329.0,1268.0 1328.8,1276.4C1328.6,1284.8 1328.5,1293.2 1328.3,1301.6C1328.1,1310.0 1327.9,1318.4 1327.7,1326.8C1327.6,1335.2 1327.4,1343.6 1327.2,1352.0C1327.0,1360.4 1326.8,1368.8 1326.6,1377.2C1326.4,1385.6 1326.2,1394.0 1326.0,1402.4C1325.8,1410.8 1325.6,1419.3 1325.4,1427.7C1325.1,1436.1 1324.9,1444.5 1324.7,1452.9C1324.5,1461.3 1324.2,1469.7 1324.0,1478.1C1323.8,1486.5 1323.5,1495.0 1323.3,1503.4C1323.0,1511.8 1322.7,1520.2 1322.5,1528.6C1322.2,1537.1 1321.9,1545.5 1321.7,1553.9C1321.4,1562.3 1321.0,1570.8 1320.9,1579.2C1320.7,1587.6 1320.4,1596.0 1320.5,1604.5C1320.5,1612.9 1320.7,1621.3 1321.2,1629.7C1321.7,1638.1 1322.4,1646.5 1323.6,1654.9C1324.8,1663.2 1326.1,1671.7 1328.5,1679.8C1331.0,1687.9 1334.0,1696.1 1338.3,1703.3C1342.6,1710.5 1348.2,1717.5 1354.4,1723.2C1360.5,1728.7 1367.7,1733.8 1375.2,1736.9C1382.5,1740.0 1390.9,1742.1 1398.8,1742.1C1406.9,1742.1 1415.6,1740.0 1423.0,1736.8C1430.8,1733.5 1438.4,1728.2 1444.4,1722.2C1450.3,1716.3 1454.0,1708.1 1458.8,1701.0" fill="none" stroke="#231f20" stroke-width="8.5" />
<path d="M1305.0,370.2C1312.9,373.4 1320.7,376.8 1328.6,379.8C1336.6,382.9 1344.6,385.6 1352.6,388.4C1360.7,391.2 1368.8,393.8 1376.9,396.6C1385.1,399.4 1393.4,402.0 1401.5,405.2C1409.5,408.3 1417.8,411.1 1425.3,415.4C1432.4,419.5 1439.5,424.3 1445.2,430.1C1450.9,435.9 1455.6,443.1 1459.5,450.3C1463.5,457.7 1466.4,466.0 1468.9,474.1C1471.5,482.4 1473.2,491.0 1474.8,499.6C1476.3,508.0 1477.2,516.6 1478.1,525.2C1478.9,533.6 1479.3,542.2 1479.7,550.7C1480.1,559.2 1480.3,567.7 1480.6,576.2C1480.8,584.7 1481.0,593.2 1481.2,601.7C1481.4,610.2 1481.5,618.7 1481.6,627.3C1481.8,635.8 1481.8,644.3 1481.9,652.8C1482.0,661.3 1482.0,669.8 1482.1,678.3C1482.1,686.9 1482.1,695.4 1482.1,703.9C1482.1,712.4 1482.0,720.9 1482.0,729.5C1481.9,738.0 1481.9,746.5 1481.8,755.0C1481.7,763.5 1481.6,772.1 1481.5,780.6C1481.3,789.1 1481.2,797.6 1481.1,806.2C1480.9,814.7 1480.8,823.2 1480.6,831.7C1480.4,840.3 1480.2,848.8 1480.1,857.3C1479.9,865.8 1479.7,874.4 1479.5,882.9C1479.3,891.4 1479.1,899.9 1478.8,908.5C1478.6,917.0 1478.4,925.5 1478.2,934.0C1478.0,942.6 1477.7,951.1 1477.5,959.6C1477.3,968.2 1477.1,976.7 1476.8,985.2C1476.6,993.7 1476.4,1002.3 1476.2,1010.8C1476.0,1019.3 1475.7,1027.8 1475.5,1036.4C1475.3,1044.9 1475.1,1053.4 1474.9,1061.9C1474.7,1070.5 1474.5,1079.0 1474.3,1087.5C1474.2,1096.0 1474.0,1104.6 1473.8,1113.1C1473.6,1121.6 1473.5,1130.1 1473.3,1138.6C1473.1,1147.2 1473.0,1155.7 1472.8,1164.2C1472.7,1172.7 1472.5,1181.2 1472.4,1189.8C1472.2,1198.3 1472.0,1206.8 1471.9,1215.3C1471.7,1223.9 1471.6,1232.4 1471.4,1240.9C1471.3,1249.4 1471.1,1257.9 1471.0,1266.5C1470.8,1275.0 1470.6,1283.5 1470.5,1292.0C1470.3,1300.5 1470.1,1309.1 1470.0,1317.6C1469.8,1326.1 1469.6,1334.6 1469.4,1343.1C1469.2,1351.7 1469.0,1360.2 1468.8,1368.7C1468.6,1377.2 1468.4,1385.8 1468.2,1394.3C1467.9,1402.8 1467.7,1411.3 1467.5,1419.9C1467.2,1428.4 1467.0,1436.9 1466.7,1445.4C1466.5,1453.9 1466.2,1462.5 1466.0,1471.0C1465.8,1479.5 1465.6,1488.0 1465.4,1496.6C1465.2,1505.1 1465.0,1513.6 1464.9,1522.2C1464.8,1530.7 1464.6,1539.2 1464.6,1547.7C1464.5,1556.3 1464.5,1564.8 1464.5,1573.3C1464.5,1581.8 1464.5,1590.3 1464.6,1598.9C1464.8,1607.4 1464.9,1615.9 1465.1,1624.4C1465.4,1633.0 1465.7,1641.5 1466.0,1650.0" fill="none" stroke="#231f20" stroke-width="8.5" />
<path d="M590.6,1755.0C593.2,1763.7 594.0,1773.3 598.3,1781.0C602.1,1787.9 608.8,1793.2 614.0,1799.3" fill="none" stroke="#231f20" stroke-width="8.5" />
<path d="M590,1672L590.6,1755L598.3,1781L614,1799.3L606,1762L599,1715L594.5,1672Z" fill="#231f20" stroke="#231f20" stroke-width="3" />
<path d="M589.3,1675.0C584.5,1682.8 578.4,1690.0 575.0,1698.3C571.0,1707.9 568.8,1719.0 568.6,1729.4C568.4,1740.6 570.6,1752.8 575.0,1763.0C579.1,1772.5 585.2,1782.6 593.2,1789.0C599.1,1793.7 607.1,1795.9 614.0,1799.3" fill="none" stroke="#231f20" stroke-width="8.5" />
<ellipse cx="1394.5" cy="1631.5" rx="49" ry="72.5" fill="#fff" stroke="#231f20" stroke-width="8.5"/>
<path d="M1394.5,1559H1437V1704H1394.5Z" fill="#fff" stroke="none" stroke-width="8.5" />
<path d="M1394.5,1559H1437M1394.5,1704H1437" fill="none" stroke="#231f20" stroke-width="8.5" />
<ellipse cx="1437" cy="1631.5" rx="48.5" ry="72.5" fill="#fff" stroke="#231f20" stroke-width="8.5"/>
<ellipse cx="0" cy="0" rx="483.4" ry="343.3" transform="translate(945.6,1702.1) rotate(75.00)" fill="#fff" stroke="#231f20" stroke-width="8.5"/>
<clipPath id="ce2"><ellipse cx="0" cy="0" rx="348.8" ry="243.6" transform="translate(938.7,1708.6) rotate(73.60)" /></clipPath>
<g clip-path="url(#ce2)"><ellipse cx="0" cy="0" rx="331.2" ry="228.1" transform="translate(988.5,1687.4) rotate(74.80)" fill="none" stroke="#231f20" stroke-width="8.5"/></g>
<ellipse cx="0" cy="0" rx="348.8" ry="243.6" transform="translate(938.7,1708.6) rotate(73.60)" fill="none" stroke="#231f20" stroke-width="8.5"/>
<ellipse cx="0" cy="0" rx="18.5" ry="24.3" transform="translate(675.5,1456.7) rotate(-6)" fill="#fff" stroke="#231f20" stroke-width="9"/>
<ellipse cx="0" cy="0" rx="18.5" ry="24.3" transform="translate(751.9,1354.5) rotate(-6)" fill="#fff" stroke="#231f20" stroke-width="9"/>
<ellipse cx="0" cy="0" rx="18.5" ry="24.3" transform="translate(854.0,1305.3) rotate(-6)" fill="#fff" stroke="#231f20" stroke-width="9"/>
<ellipse cx="0" cy="0" rx="18.5" ry="24.3" transform="translate(979.6,1318.2) rotate(-6)" fill="#fff" stroke="#231f20" stroke-width="9"/>
<ellipse cx="0" cy="0" rx="18.5" ry="24.3" transform="translate(1098.3,1393.3) rotate(-6)" fill="#fff" stroke="#231f20" stroke-width="9"/>
<ellipse cx="0" cy="0" rx="18.5" ry="24.3" transform="translate(776.5,2000.0) rotate(-6)" fill="#fff" stroke="#231f20" stroke-width="9"/>
<ellipse cx="0" cy="0" rx="18.5" ry="24.3" transform="translate(886.0,2081.5) rotate(-6)" fill="#fff" stroke="#231f20" stroke-width="9"/>
<ellipse cx="0" cy="0" rx="18.5" ry="24.3" transform="translate(1005.5,2108.6) rotate(-6)" fill="#fff" stroke="#231f20" stroke-width="9"/>
<ellipse cx="0" cy="0" rx="18.5" ry="24.3" transform="translate(1118.3,2066.6) rotate(-6)" fill="#fff" stroke="#231f20" stroke-width="9"/>
<ellipse cx="0" cy="0" rx="18.5" ry="24.3" transform="translate(1203.3,1966.0) rotate(-6)" fill="#fff" stroke="#231f20" stroke-width="9"/>
</g>
</svg></body></html>
